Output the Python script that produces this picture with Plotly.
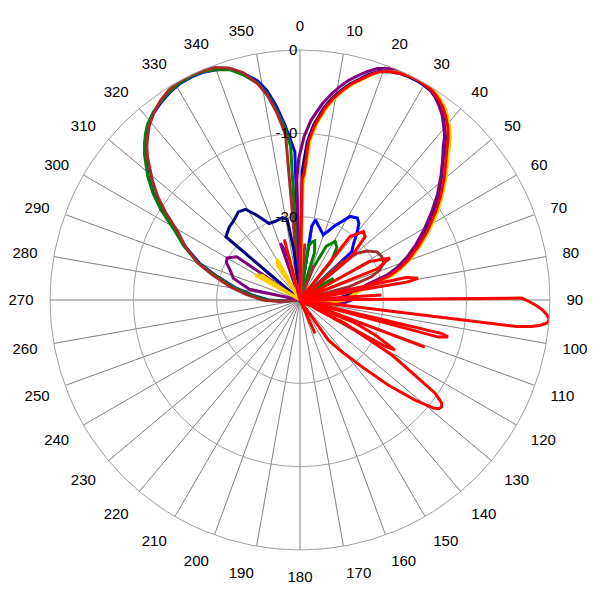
import plotly.graph_objects as go

# ---------------- data (theta in degrees, r in dB) ----------------
blue_theta = [262, 266, 270, 276, 281, 286, 290, 295, 299, 303, 306, 309, 313, 315, 317, 319, 322, 325, 328, 331, 334, 337, 340, 343, 346, 349, 351, 353, 355, 357, 358, 0,
              2, 9, 11, 15, 19.7, 25, 31, 35, 37.5, 40, 44, 47, 50]
blue_r = [-30, -28.2, -26.2, -24.2, -22, -19.6, -17.2, -14.8, -12.9, -10.2, -8.3, -6.6, -4.6, -3.7, -2.9, -2.2, -1.5, -1.0, -0.6, -0.3, -0.25, -0.3, -0.6, -1.0, -2.0, -3.2, -4.5, -6.5, -8.8, -11.2, -12.2, -30,
          -30, -21, -20.2, -21, -21.7, -20.2, -18.3, -18, -18.4, -19.3, -20.8, -21.5, -30]

navy_theta = [308, 310.5, 316, 320, 325, 329, 333, 338, 343, 348, 351, 353, 355,
              1, 2.6, 4.5, 7, 9, 11, 13, 15, 17, 19, 21.5, 24, 26, 28, 30, 32, 34, 36, 38, 40, 42, 43.6, 46, 49, 53, 56.6, 61, 65, 69, 72, 74.5, 77.7, 81, 85, 89, 92]
navy_r = [-30, -18.3, -17.8, -17.6, -17.1, -17.3, -18.6, -20.1, -20.1, -19.9, -20.2, -24, -30,
          -14.5, -11, -8.9, -6.8, -5.5, -4.4, -3.4, -2.6, -1.7, -1, -0.55, -0.3, -0.2, -0.2, -0.25, -0.4, -0.8, -1.4, -2.1, -3, -3.9, -4.9, -6.2, -7.5, -9.2, -10.8, -12.8, -14.6, -16.3, -17.7, -19.1, -22, -23.5, -24.5, -26, -30]

green_theta = [262, 266, 270, 276, 281, 286, 290, 295, 299, 303, 306, 309, 313, 315, 317, 319, 322, 325, 328, 331, 334, 337, 340, 343, 346, 349, 351, 353, 355, 356.5, 358,
               6, 9, 11.5, 14, 17, 19, 22, 26, 31, 35, 39, 42, 52, 57, 62, 66]
green_r = [-30, -28, -26, -24, -21.8, -19.4, -17.0, -14.6, -12.8, -10.1, -8.2, -6.5, -4.5, -3.6, -2.8, -2.1, -1.4, -0.9, -0.5, -0.2, -0.15, -0.2, -0.6, -1.1, -2.2, -3.5, -5.0, -7.1, -9.3, -11.5, -30,
           -30, -23.5, -22.9, -22.7, -24, -30, -26, -22.8, -21.8, -22.3, -24, -30, -28, -25.2, -27, -30]

purple_theta = [279, 282, 288, 293, 297, 300, 304.4, 306, 336, 341, 345, 348,
                358.5, 359.5, 1.5, 3.5, 6.5, 8.5, 10.5, 12.5, 14.5, 16.5, 18.5, 21, 23.5, 25.5, 27.5, 29.5, 31.5, 33.5, 35.5, 37.5, 39.5, 41.5, 43, 45.5, 48.5, 52.5, 56, 60.5, 64.5, 68.5, 71.5, 74, 77.2, 80.5, 85, 90, 94.4, 97]
purple_r = [-30, -23.8, -21.6, -20.9, -20.1, -19.9, -20.8, -30, -30, -22.8, -24.5, -30,
            -15.5, -13, -10.3, -8.4, -6.3, -5.1, -4.0, -3.0, -2.2, -1.4, -0.7, -0.25, 0, 0, 0, -0.1, -0.3, -0.7, -1.3, -2.0, -2.9, -3.8, -4.8, -6.0, -7.4, -9.2, -10.9, -12.9, -14.6, -16.3, -17.7, -19.1, -21.8, -23, -23.5, -23.8, -24.8, -30]

yellow_theta = [296, 299, 303, 307, 322, 327, 331, 334, 342, 345.5, 348,
                1.5, 2.3, 3.6, 5.5, 8, 10, 12, 14, 16, 18, 20, 22.5, 25, 27, 29, 31, 33, 35, 37, 39, 41, 43, 44.6, 47, 50, 54, 57.6, 62, 66, 70, 73, 75.5, 78.7, 82, 86, 90, 93, 96]
yellow_r = [-30, -23.8, -24.6, -30, -30, -25, -24.4, -30, -30, -24.4, -30,
            -16, -14.8, -10.8, -8.7, -6.6, -5.3, -4.2, -3.2, -2.4, -1.5, -0.8, -0.35, -0.1, 0, 0, -0.05, -0.2, -0.6, -1.1, -1.8, -2.6, -3.6, -4.5, -5.8, -7.1, -8.9, -10.5, -12.5, -14.3, -16, -17.4, -18.8, -21.6, -23, -24, -24.6, -26, -30]

brown_theta = [262, 266, 270, 276, 281, 286, 290, 295, 299, 303, 306, 309, 313, 315, 317, 319, 322, 325, 328, 331, 334, 337, 340, 343, 346, 349, 351, 353, 355, 357,
               2, 5, 8, 18, 22, 26, 45, 47.5, 50.5, 54, 58, 62, 66, 69.4, 72, 75, 78]
brown_r = [-30, -27.5, -25.5, -23.5, -21.4, -19.1, -16.9, -14.8, -13.3, -10.8, -8.9, -7.2, -5.0, -4.0, -3.2, -2.4, -1.5, -0.8, -0.3, 0, 0, -0.1, -0.3, -0.9, -1.9, -3.6, -5.2, -7.4, -10, -30,
           -30, -23.2, -30, -30, -25.5, -30, -30, -23.5, -21.2, -20, -19.1, -18.9, -19, -19.8, -21, -24, -30]

red_a_theta = [341, 345.5, 348,
               1, 1.8, 3.1, 5, 7.5, 9.5, 11.5, 13.5, 15.5, 17.5, 19.5, 22, 24.5, 26.5, 28.5, 30.5, 32.5, 34.5, 36.5, 38.5, 40.5, 42.5, 44, 46.5, 49.5, 53.5, 57, 61.5, 65.5, 69.5, 72.5, 75, 78, 81, 84]
red_a_r = [-30, -22.5, -30,
           -15.5, -14.9, -10.9, -8.8, -6.7, -5.4, -4.3, -3.3, -2.5, -1.6, -0.9, -0.45, -0.2, -0.1, -0.1, -0.15, -0.3, -0.7, -1.2, -1.9, -2.7, -3.7, -4.6, -5.9, -7.2, -9, -10.6, -12.6, -14.4, -16.1, -17.5, -18.9, -21.8, -24, -30]

red_b_theta = [36, 38.3, 42.8, 45.8, 50, 54, 58, 61, 65, 68, 71, 77, 78, 79.6, 80.5, 81.5,
               89, 89.5, 90.5, 91.5, 92.5, 93.5, 94.5, 95.3, 96, 96.5, 97, 98,
               102.5, 103.3, 104, 105, 106, 109.5, 110.7, 111.8]
red_b_r = [-30, -20.3, -18.8, -19.1, -22, -30, -30, -20.5, -18.1, -20, -30, -30, -17, -15.6, -17, -30,
           -30, -3.4, -2.4, -1.5, -0.8, -0.3, 0, -0.2, -1.0, -2.0, -3.8, -30,
           -30, -12.5, -11.7, -12.8, -30, -30, -14, -30]

red_c_theta = [84.5, 86.5, 88, 113, 117.4, 121, 124.6, 126, 127, 128, 129, 131, 134, 137.2, 141, 144.7, 148, 153, 155.8, 158]
red_c_r = [-30, -20.2, -30, -30, -24, -17, -10.3, -9.0, -8.7, -8.8, -9.4, -11.7, -15.3, -19.1, -22, -24.1, -30, -30, -25.6, -30]

red_d_theta = [111, 112.7, 115, 117.8, 118.6, 119.5]
red_d_r = [-30, -22.8, -20, -17.1, -18.5, -30]

angle_ticks = list(range(0, 360, 10))
angle_labels = [str(a) for a in angle_ticks]
radial_ticks = [-20, -10, 0]
radial_labels = ["-20", "-10", "0"]

# ---------------- figure ----------------
series = [
    (blue_theta, blue_r, "#0000FF"),
    (green_theta, green_r, "#008000"),
    (brown_theta, brown_r, "#A52A2A"),
    (navy_theta, navy_r, "#000080"),
    (purple_theta, purple_r, "#800080"),
    (yellow_theta, yellow_r, "#FFCC00"),
    (red_a_theta, red_a_r, "#FF0000"),
    (red_b_theta, red_b_r, "#FF0000"),
    (red_c_theta, red_c_r, "#FF0000"),
    (red_d_theta, red_d_r, "#FF0000"),
]

fig = go.Figure()
for th, rr, col in series:
    fig.add_trace(go.Scatterpolar(theta=th, r=rr, mode="lines",
                                  line=dict(color=col, width=3),
                                  showlegend=False, hoverinfo="skip"))

font = dict(family="Arial, Liberation Sans, sans-serif", size=15, color="#000000")

fig.update_layout(
    width=600, height=600,
    margin=dict(l=42, r=58, t=42, b=58),
    paper_bgcolor="white",
    showlegend=False,
    polar=dict(
        bgcolor="white",
        angularaxis=dict(
            rotation=90, direction="clockwise",
            tickmode="array", tickvals=angle_ticks, ticktext=angle_labels,
            tickfont=font, ticks="outside", ticklen=13, tickcolor="rgba(0,0,0,0)",
            showline=True, linecolor="#A0A0A0", linewidth=1,
            showgrid=True, gridcolor="#808080", gridwidth=1,
        ),
        radialaxis=dict(
            range=[-30, 0], angle=90, tickangle=90, side="counterclockwise",
            tickmode="array", tickvals=radial_ticks, ticktext=radial_labels,
            tickfont=font, ticks="", showline=False,
            showgrid=True, gridcolor="#A0A0A0", gridwidth=1,
        ),
    ),
)

fig.write_html("out.html")
